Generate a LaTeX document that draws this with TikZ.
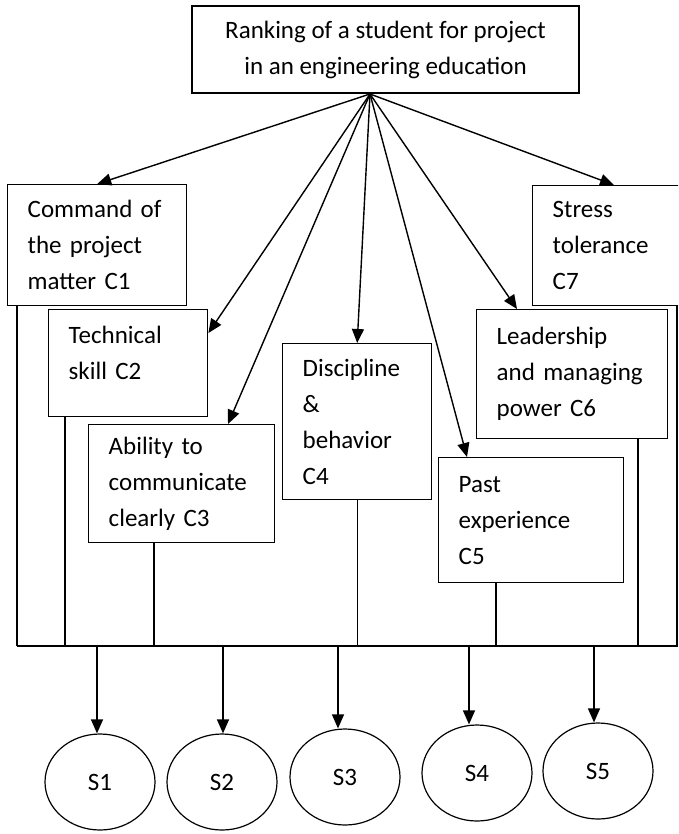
\documentclass[tikz,border=0pt]{standalone}
\usepackage{fontspec}
\setmainfont{Carlito}
\usetikzlibrary{arrows.meta,shapes.geometric}

\tikzset{
  crit/.style={draw, line width=1.4pt, anchor=north west, align=left, inner xsep=20pt, inner ysep=0pt},
  alt/.style={draw, ellipse, line width=1.2pt, minimum width=110pt, minimum height=96pt, inner sep=0pt},
  link/.style={line width=1.4pt, -{Triangle[length=14pt,width=12pt]}},
  leg/.style={line width=1.4pt},
}

\begin{document}
\begin{tikzpicture}[x=1pt, y=-1pt, font=\fontsize{25}{36}\selectfont]
\useasboundingbox (0,0) rectangle (678,834);
\clip (0,0) rectangle (678,834);

\node[draw, line width=1.4pt, align=center, minimum width=387pt, minimum height=87pt] (goal) at (385.5,49.5)
  {Ranking of a student for project\\in an engineering education};
\coordinate (hub) at (370,94);

\node[crit, text width=139pt, minimum height=121pt] (c1) at (7,184) {Command~of\\the~project\\matter~C1};
\node[crit, text width=119pt, minimum height=107pt, text depth=56pt] (c2) at (48,309) {Technical\\skill~C2};
\node[crit, text width=146pt, minimum height=118pt] (c3) at (88,424) {Ability~to\\communicate\\clearly~C3};
\node[crit, text width=109pt, minimum height=156pt] (c4) at (282,343) {Discipline\\\&\\behavior\\C4};
\node[crit, text width=145pt, minimum height=125pt] (c5) at (438,457) {Past\\experience\\C5};
\node[crit, text width=151pt, minimum height=129pt] (c6) at (476,309) {Leadership\\and~managing\\power~C6};
\node[crit, text width=140pt, minimum height=120pt] (c7) at (532,185) {Stress\\tolerance\\C7};

\draw[link] (hub) -- (c1.north);
\draw[link] (hub) -- ([yshift=-24pt]c2.north east);
\draw[link] (hub) -- ([xshift=140pt]c3.north west);
\draw[link] (hub) -- (c4.north);
\draw[link] (hub) -- ([xshift=29pt]c5.north west);
\draw[link] (hub) -- ([xshift=41pt]c6.north west);
\draw[link] (hub) -- ([xshift=82pt]c7.north west);

\coordinate (bus) at (17,646);
\draw[leg] ([xshift=10pt]c1.south west) -- (bus);
\draw[leg] ([xshift=17pt]c2.south west) |- (bus);
\draw[leg] ([xshift=66pt]c3.south west) |- (bus);
\draw[leg] (c4.south) |- (bus);
\draw[leg] ([xshift=58pt]c5.south west) |- (bus);
\draw[leg] ([xshift=162pt]c6.south west) |- (bus);
\draw[leg] ([xshift=145pt]c7.south west) |- (bus);

\node[alt] (s1) at (100,782) {S1};
\node[alt] (s2) at (222,782) {S2};
\node[alt] (s3) at (345,777) {S3};
\node[alt] (s4) at (477,773) {S4};
\node[alt] (s5) at (598,771) {S5};

\foreach \i/\d in {1/-3,2/1,3/-7,4/-8,5/-4} {
  \coordinate (t\i) at ([xshift=\d pt]s\i.north);
  \draw[link] (t\i |- bus) -- (t\i);
}
\end{tikzpicture}
\end{document}
